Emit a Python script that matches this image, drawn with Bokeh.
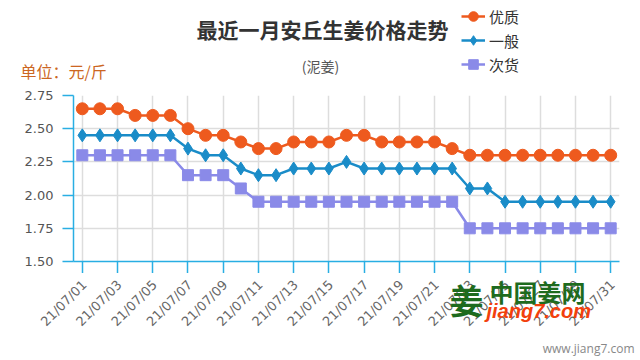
from bokeh.plotting import figure
from bokeh.layouts import column
from bokeh.models import (FixedTicker, Legend, LegendItem, Label, LabelSet, Range1d,
                          NumeralTickFormatter, ColumnDataSource)
from bokeh.core.properties import value
from bokeh.embed import file_html
from bokeh.resources import INLINE

dates = ["21/07/01", "21/07/02", "21/07/03", "21/07/04", "21/07/05", "21/07/06",
         "21/07/07", "21/07/08", "21/07/09", "21/07/10", "21/07/11", "21/07/12",
         "21/07/13", "21/07/14", "21/07/15", "21/07/16", "21/07/17", "21/07/18",
         "21/07/19", "21/07/20", "21/07/21", "21/07/22", "21/07/23", "21/07/24",
         "21/07/25", "21/07/26", "21/07/27", "21/07/28", "21/07/29", "21/07/30",
         "21/07/31"]
youzhi = [2.65, 2.65, 2.65, 2.60, 2.60, 2.60, 2.50, 2.45, 2.45, 2.40, 2.35, 2.35,
          2.40, 2.40, 2.40, 2.45, 2.45, 2.40, 2.40, 2.40, 2.40, 2.35, 2.30, 2.30,
          2.30, 2.30, 2.30, 2.30, 2.30, 2.30, 2.30]
yiban = [2.45, 2.45, 2.45, 2.45, 2.45, 2.45, 2.35, 2.30, 2.30, 2.20, 2.15, 2.15,
         2.20, 2.20, 2.20, 2.25, 2.20, 2.20, 2.20, 2.20, 2.20, 2.20, 2.05, 2.05,
         1.95, 1.95, 1.95, 1.95, 1.95, 1.95, 1.95]
cihuo = [2.30, 2.30, 2.30, 2.30, 2.30, 2.30, 2.15, 2.15, 2.15, 2.05, 1.95, 1.95,
         1.95, 1.95, 1.95, 1.95, 1.95, 1.95, 1.95, 1.95, 1.95, 1.95, 1.75, 1.75,
         1.75, 1.75, 1.75, 1.75, 1.75, 1.75, 1.75]
series_names = ["优质", "一般", "次货"]
series = [youzhi, yiban, cihuo]
y_ticks = [1.50, 1.75, 2.00, 2.25, 2.50, 2.75]

idx = list(range(len(dates)))
shown = idx[::2]

CJK = "Noto Sans CJK SC"
AXIS = "#29aee3"
colors = ["#ee5a1e", "#1a8cc8", "#8a8ae8"]
markers = ["circle", "diamond", "square"]
sizes = [12, 13, 11]

W = 640
HEAD_H = 85
TOP, FRAME_H, TICK = 10, 166, 12
MAIN_H = TOP + FRAME_H + TICK
FOOT_H = 360 - HEAD_H - MAIN_H
LEFT, RIGHT = 73, 21
FRAME_W = W - LEFT - RIGHT


def no_align(f):
    try:
        f.frame_align = False
    except Exception:
        pass


def bare(h, x_range):
    f = figure(width=W, height=h, output_backend="svg", toolbar_location=None,
               x_axis_type=None, y_axis_type=None, min_border=0,
               x_range=x_range, y_range=Range1d(0, 1))
    f.outline_line_color = None
    f.grid.visible = False
    no_align(f)
    return f


def lab(f, x, y, text, size, color, align="left", style="normal", font=CJK):
    f.add_layout(Label(x=x, y=y, x_units="screen", y_units="screen", text=text,
                       text_font=font, text_font_size=size, text_color=color,
                       text_align=align, text_baseline="middle",
                       text_font_style=style))


# ---------- header: title, subtitle, unit, legend ----------
head = bare(HEAD_H, Range1d(0, 1))
lab(head, 322, HEAD_H - 28, "最近一月安丘生姜价格走势", "21px", "#333333", "center", "bold")
lab(head, 320, HEAD_H - 65, "(泥姜)", "14px", "#555555", "center")
lab(head, 20, HEAD_H - 70, "单位：元/斤", "16px", "#cc6622")

items = []
for name, vals, c, m, s in zip(series_names, series, colors, markers, sizes):
    # same series, but outside the header's (0..1) ranges: only the legend shows
    l = head.line(idx, vals, line_color=c, line_width=2.5)
    sc = head.scatter(idx, vals, marker=m, size=s, fill_color=c, line_color=c)
    items.append(LegendItem(label=name, renderers=[l, sc]))
legend = Legend(items=items, location=(461, HEAD_H - 76), orientation="vertical",
                background_fill_alpha=0, border_line_color=None, padding=0,
                margin=0, glyph_width=24, glyph_height=24, label_height=24,
                label_standoff=4, label_text_font=CJK,
                label_text_font_size="15px", label_text_color="#333333")
try:
    legend.spacing = -1
except Exception:
    legend.spacing = 0
head.add_layout(legend)

# ---------- main chart ----------
p = figure(width=W, height=MAIN_H, output_backend="svg", toolbar_location=None,
           x_range=Range1d(-0.5, len(dates) - 0.5),
           y_range=Range1d(y_ticks[0], y_ticks[-1]),
           min_border_left=LEFT, min_border_right=RIGHT, min_border_top=TOP,
           min_border_bottom=TICK)
p.outline_line_color = None
no_align(p)

xt = FixedTicker(ticks=shown)
p.xaxis.ticker = xt
p.xaxis.major_tick_out = TICK
p.xaxis.major_tick_in = 0
p.xaxis.minor_tick_line_color = None
p.xaxis.major_label_text_font_size = "1px"
p.xaxis.major_label_text_color = None
p.xaxis.major_label_standoff = 0

yt = FixedTicker(ticks=y_ticks)
p.yaxis.ticker = yt
p.yaxis.formatter = NumeralTickFormatter(format="0.00")
p.yaxis.major_tick_out = 11
p.yaxis.major_tick_in = 0
p.yaxis.minor_tick_line_color = None
p.yaxis.major_label_standoff = 9
p.yaxis.major_label_text_font = "DejaVu Sans"
p.yaxis.major_label_text_font_size = "13px"
p.yaxis.major_label_text_color = "#555555"

for ax in (p.xaxis, p.yaxis):
    ax.axis_line_color = AXIS
    ax.axis_line_width = 1.5
    ax.major_tick_line_color = AXIS
    ax.major_tick_line_width = 1.5

p.xgrid.ticker = xt
p.ygrid.ticker = yt
p.grid.grid_line_color = "#dddddd"
p.grid.grid_line_width = 1.5

for vals, c, m, s in zip(series, colors, markers, sizes):
    p.line(idx, vals, line_color=c, line_width=2.5)
    p.scatter(idx, vals, marker=m, size=s, fill_color=c, line_color=c)

# ---------- footer: rotated date labels + watermark ----------
per_px = len(dates) / FRAME_W
foot = bare(FOOT_H, Range1d(-0.5 - LEFT * per_px, len(dates) - 0.5 + RIGHT * per_px))

src = ColumnDataSource(dict(x=shown, text=[dates[i] for i in shown]))
foot.add_layout(LabelSet(source=src, x="x", y=FOOT_H - 9, y_units="screen", text="text",
                         angle=45, angle_units="deg", x_offset=2,
                         text_align="right", text_baseline="middle",
                         text_font=value("DejaVu Sans"), text_font_size=value("13px"),
                         text_color="#666666"))

fy = lambda page_y: 360 - page_y
lab(foot, 466, fy(299), "姜", "34px", "#1e6b1e", "center", "bold")
lab(foot, 489, fy(291), "中国姜网", "24px", "#1e6b1e", "left", "bold")
lab(foot, 486, fy(310), "jiang7.com", "20px", "#f2400c", "left", "bold italic",
    "Liberation Sans")
lab(foot, 634, fy(348), "www.jiang7.com", "12px", "#888888", "right", "normal",
    "Open Sans")

layout = column(head, p, foot, spacing=0)
open("out.html", "w").write(file_html(layout, INLINE))
